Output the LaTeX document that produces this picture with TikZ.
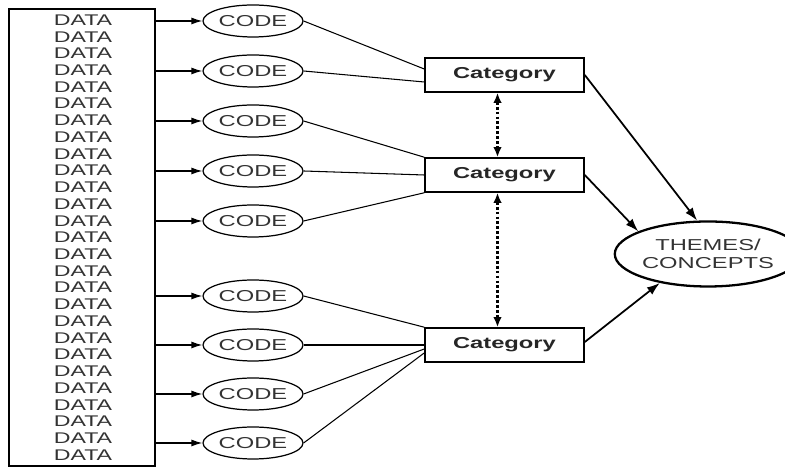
\documentclass[tikz,border=0pt]{standalone}
\usepackage{fontspec}
\setmainfont{Liberation Sans}[FakeStretch=1.5]
\usetikzlibrary{shapes.geometric,arrows.meta}

\begin{document}
\begin{tikzpicture}[
    datatxt/.style={inner sep=0pt, text=black!80, font=\fontsize{8.8}{10}\selectfont},
    code/.style={ellipse, draw, line width=0.7pt, minimum width=2cm, minimum height=0.64cm, inner sep=0pt, text=black!80, font=\fontsize{9}{10}\selectfont},
    cat/.style={rectangle, draw, line width=0.9pt, minimum width=3.18cm, minimum height=0.68cm, inner sep=0pt, text=black!85, font=\fontsize{9}{10}\selectfont\bfseries},
    themes/.style={ellipse, draw, line width=1.3pt, minimum width=3.06cm, minimum height=1.3cm, inner sep=0pt, align=center, text=black!80, font=\fontsize{9}{10.5}\selectfont},
    feed/.style={-{Latex[length=2.2mm,width=1.4mm]}, line width=0.7pt},
    link/.style={line width=0.6pt},
    dotlink/.style={{Latex[length=2mm,width=1.7mm]}-{Latex[length=2mm,width=1.7mm]}, line width=1.3pt, dash pattern=on 1.6pt off 1.2pt},
    toth/.style={-{Latex[length=2.6mm,width=1.8mm]}, line width=1pt}
  ]
    \useasboundingbox (0,0) rectangle (15.7,9.42);

    % data column
    \node[draw, line width=1.1pt, minimum width=2.92cm, minimum height=9.14cm, inner sep=0pt] (box) at (1.64,4.67) {};
    \foreach \k in {1,...,27}
      \node[datatxt] (d\k) at (1.66, {9.02-0.3346*(\k-1)}) {DATA};

    % codes
    \foreach \y [count=\i] in {9.0,8.0,7.0,6.0,5.0,3.5,2.52,1.54,0.56} {
      \node[code] (c\i) at (5.06,\y) {CODE};
      \draw[feed] (box.east |- c\i) -- (c\i);
    }

    % categories
    \node[cat] (k1) at (10.09,7.92) {Category};
    \node[cat] (k2) at (10.09,5.92) {Category};
    \node[cat] (k3) at (10.09,2.52) {Category};

    \node[themes] (th) at (14.16,4.34) {THEMES/\\CONCEPTS};

    \draw[link] (c1.east) -- ([yshift=0.12cm]k1.west);
    \draw[link] (c2.east) -- ([yshift=-0.14cm]k1.west);
    \draw[link] (c3.east) -- (k2.north west);
    \draw[link] (c4.east) -- (k2.west);
    \draw[link] (c5.east) -- (k2.south west);
    \draw[link] (c6.east) -- (k3.north west);
    \draw[link] (c7.east) -- (k3.west);
    \draw[link] (c8.east) -- ([yshift=-0.08cm]k3.west);
    \draw[link] (c9.east) -- ([yshift=-0.16cm]k3.west);

    \draw[dotlink] ([xshift=-0.14cm]k1.south) -- ([xshift=-0.14cm]k2.north);
    \draw[dotlink] ([xshift=-0.14cm]k2.south) -- ([xshift=-0.14cm]k3.north);

    \draw[toth] (k1.east) -- (th.108);
    \draw[toth] (k2.east) -- (th.162);
    \draw[toth] ([yshift=0.06cm]k3.east) -- (th.211);
  \end{tikzpicture}
\end{document}
